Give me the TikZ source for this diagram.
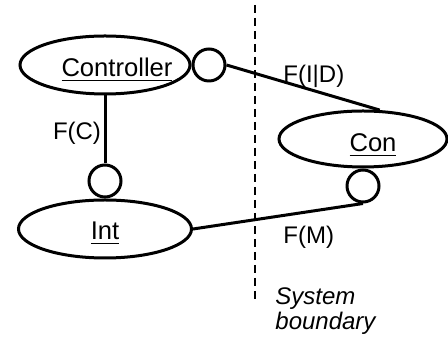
\documentclass[tikz,border=0pt]{standalone}
\usepackage{fontspec}
\setmainfont{Liberation Sans}
\usetikzlibrary{positioning,shapes.geometric}
\begin{document}
\begin{tikzpicture}[x=0.5pt, y=-0.5pt,
    every node/.style={font=\fontsize{12}{14}\selectfont},
    entity/.style={ellipse, draw, line width=1.5pt, inner sep=0pt},
    port/.style={circle, draw, line width=1.5pt, minimum size=16pt, inner sep=0pt},
    link/.style={line width=1.5pt},
    lbl/.style={inner sep=0pt}]
    \useasboundingbox (0,0) rectangle (448,340);

    % --- System boundary ---
    \coordinate (btop) at (255,5);
    \coordinate (bbot) at (255,303);
    \draw[line width=0.8pt, dash pattern=on 4pt off 2.5pt] (btop) -- (bbot);

    % --- Entities ---
    \node[entity, minimum width=85pt, minimum height=29pt] (ctrl) at (105,65) {};
    \node[entity, minimum width=86.5pt, minimum height=29pt] (int) at (105,229) {};
    \node[entity, minimum width=84pt, minimum height=28pt] (con) at (363,139) {};

    \node[lbl, anchor=base] (ctrltxt) at (117,77) {\underline{\fontsize{12.8}{14}\selectfont Controller}};
    \node[lbl, anchor=base] (inttxt) at (105,240) {\underline{\fontsize{12.8}{14}\selectfont Int}};
    \node[lbl, anchor=base] (contxt) at (373,152) {\underline{\fontsize{12.8}{14}\selectfont Con}};

    % --- Ports ---
    \node[port, right=0pt of ctrl] (pid) {};
    \node[port, above=0pt of int] (pc) {};
    \node[port, below=0pt of con] (pm) {};

    % --- Connectors ---
    \draw[link] (ctrl.south) -- (pc.north);
    \draw[link] (pid.east) -- (con.60);
    \draw[link] (pm.south) -- (int.east);

    % --- Connector labels ---
    \node[lbl] (fc) at (77,133) {F(C)};
    \node[lbl, anchor=west] (fid) at (283,76) {F(I|D)};
    \node[lbl, anchor=west] (fm) at (283,237) {F(M)};

    \node[lbl, anchor=base west] (sys) at (275,305) {\itshape System};
    \node[lbl, anchor=base west] (bnd) at (275,330) {\itshape boundary};
\end{tikzpicture}
\end{document}
